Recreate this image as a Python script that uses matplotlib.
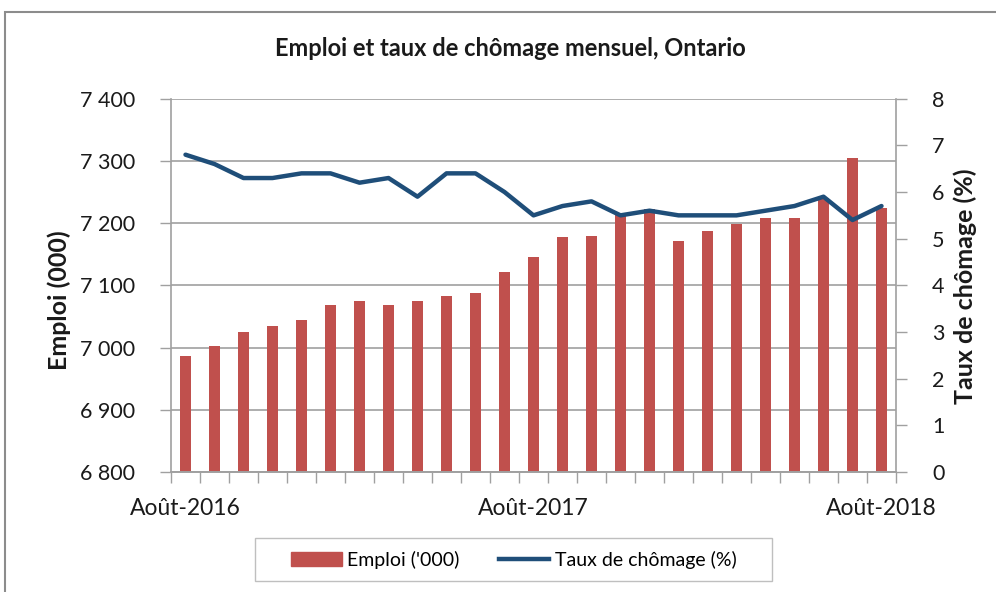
import matplotlib
matplotlib.use("Agg")
import matplotlib.pyplot as plt
import matplotlib.patches as mpatches
from matplotlib.lines import Line2D
from matplotlib.ticker import FuncFormatter, FixedLocator
import numpy as np

plt.rcParams['font.family'] = ['Lato', 'DejaVu Sans']

# Monthly data, Aug 2016 -> Aug 2018
months = ['Août-2016', 'Sep-2016', 'Oct-2016', 'Nov-2016', 'Déc-2016',
          'Jan-2017', 'Fév-2017', 'Mar-2017', 'Avr-2017', 'Mai-2017',
          'Juin-2017', 'Juil-2017', 'Août-2017', 'Sep-2017', 'Oct-2017',
          'Nov-2017', 'Déc-2017', 'Jan-2018', 'Fév-2018', 'Mar-2018',
          'Avr-2018', 'Mai-2018', 'Juin-2018', 'Juil-2018', 'Août-2018']
emploi = [6986, 7003, 7025, 7034, 7044, 7069, 7075, 7069, 7075, 7083,
          7087, 7122, 7145, 7177, 7179, 7213, 7222, 7171, 7187, 7199,
          7208, 7208, 7240, 7305, 7225]
chomage = [6.8, 6.6, 6.3, 6.3, 6.4, 6.4, 6.2, 6.3, 5.9, 6.4,
           6.4, 6.0, 5.5, 5.7, 5.8, 5.5, 5.6, 5.5, 5.5, 5.5,
           5.6, 5.7, 5.9, 5.4, 5.7]
shown_labels = {0: 'Août-2016', 12: 'Août-2017', 24: 'Août-2018'}

bar_color = '#C0504D'
line_color = '#1F4E79'
axis_gray = '#A0A0A0'
text_color = '#1a1a1a'

fig = plt.figure(figsize=(9.96, 5.92), dpi=100)
ax = fig.add_axes([171 / 996, 1 - 472 / 592, 725 / 996, (472 - 98.7) / 592])
ax2 = ax.twinx()

x = np.arange(len(months))
ax.bar(x, emploi, width=0.4, color=bar_color, zorder=2)
ax2.plot(x, chomage, color=line_color, linewidth=3.2, solid_capstyle='round', zorder=3)

# left axis
ax.set_ylim(6800, 7400)
ax.set_yticks(np.arange(6800, 7401, 100))
ax.yaxis.set_major_formatter(FuncFormatter(lambda v, p: '{:,.0f}'.format(v).replace(',', ' ')))
ax.grid(axis='y', color=axis_gray, linewidth=1.2, zorder=0)
ax.set_axisbelow(True)
ax.tick_params(axis='y', length=8, width=1, color=axis_gray, pad=18,
               labelsize=15.5, labelcolor=text_color)

# right axis
ax2.set_ylim(0, 8)
ax2.set_yticks(np.arange(0, 9, 1))
ax2.tick_params(axis='y', length=8, width=1, color=axis_gray, pad=18,
                labelsize=15.5, labelcolor=text_color)

# x axis
ax.set_xlim(-0.5, len(months) - 0.5)
ax.xaxis.set_major_locator(FixedLocator(list(shown_labels.keys())))
ax.set_xticklabels(list(shown_labels.values()))
ax.xaxis.set_minor_locator(FixedLocator(np.arange(-0.5, len(months), 1)))
ax.tick_params(axis='x', which='major', length=0, pad=19, labelsize=16.5, labelcolor=text_color)
ax.tick_params(axis='x', which='minor', length=8, width=1, color=axis_gray)

for a in (ax, ax2):
    a.spines['top'].set_visible(False)
    for s in ('left', 'right', 'bottom'):
        a.spines[s].set_color(axis_gray)
        a.spines[s].set_linewidth(1.2)
ax.spines['right'].set_visible(False)
ax2.spines['left'].set_visible(False)

# axis titles
fig.text(59 / 996, 1 - 300 / 592, 'Emploi (000)', rotation=90, fontsize=18,
         fontweight='bold', color=text_color, ha='center', va='center')
fig.text(965 / 996, 1 - 286 / 592, 'Taux de chômage (%)', rotation=90, fontsize=18,
         fontweight='bold', color=text_color, ha='center', va='center')

fig.text(510 / 996, 1 - 49 / 592, 'Emploi et taux de chômage mensuel, Ontario',
         fontsize=17, fontweight='bold', color=text_color, ha='center', va='center')

# legend (frame drawn separately to get Excel-like padding)
handles = [mpatches.Patch(color=bar_color, label="Emploi ('000)"),
           Line2D([0], [0], color=line_color, linewidth=3.2, label='Taux de chômage (%)')]
leg = fig.legend(handles=handles, loc='center', bbox_to_anchor=(514 / 996, 1 - 559.5 / 592),
                 ncol=2, frameon=False, fontsize=14,
                 handlelength=2.6, handleheight=0.7, columnspacing=2.0,
                 borderpad=0, borderaxespad=0, handletextpad=0.3)
leg_box = mpatches.Rectangle((255 / 996, 1 - 581 / 592), 517 / 996, 43 / 592,
                             transform=fig.transFigure, fill=False,
                             edgecolor='#BFBFBF', linewidth=1)
fig.add_artist(leg_box)

# outer chart border
border = mpatches.Rectangle((5 / 996, -0.1), 1.1, 0.1 + 1 - 12 / 592,
                            transform=fig.transFigure, fill=False,
                            edgecolor='#8C8C8C', linewidth=1.5, clip_on=False)
fig.add_artist(border)

fig.savefig('out.png', dpi=100)
